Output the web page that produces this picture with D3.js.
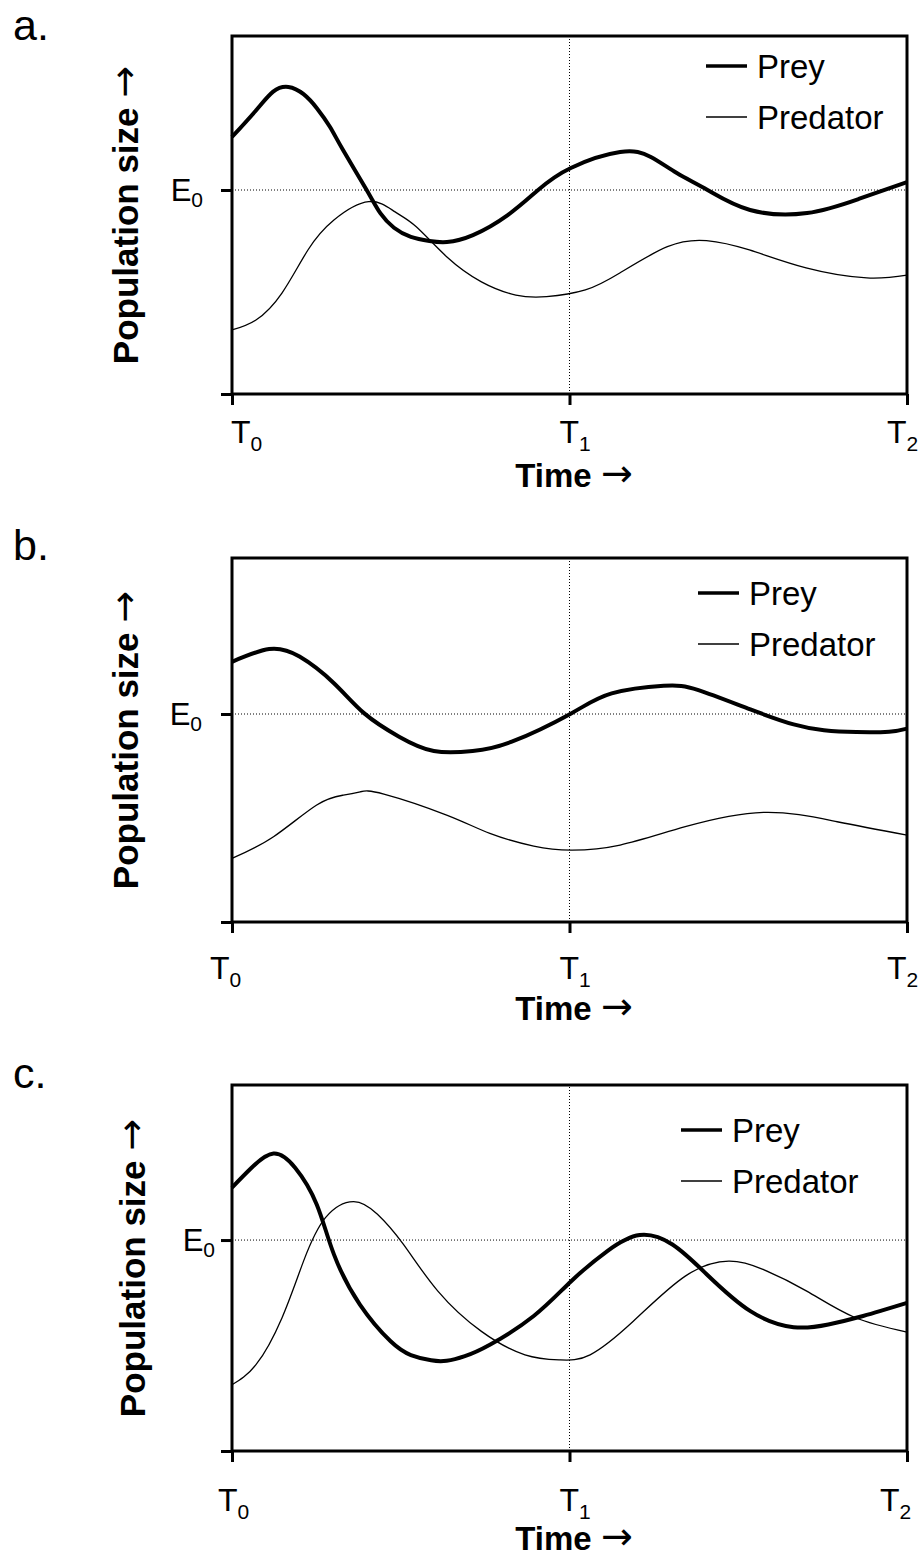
<!DOCTYPE html>
<head>
    <meta charset="utf-8">
    <title>Predator-prey oscillations</title>
    <style>
        body { margin: 0; background: #fff; }
        text { font-family: "Liberation Sans", Arial, sans-serif; fill: #000; }
        .arrow { font-family: "DejaVu Sans", sans-serif; font-weight: normal; font-size: 38px; }
    </style>
</head>
<body>
    <script src="https://d3js.org/d3.v7.min.js"></script>
    <script>

        // values: [time, population / E0]
        var panelLetters = ['a.', 'b.', 'c.'];
        var timeTicks = [0, 1, 2];
        var timeSubs = ['0', '1', '2'];
        var seriesNames = ['Prey', 'Predator'];

        var preyA = [[0, 1.26], [0.071, 1.39], [0.122, 1.482], [0.167, 1.505], [0.212, 1.47], [0.252, 1.4],
            [0.29, 1.31], [0.329, 1.196], [0.399, 1.0], [0.44, 0.885], [0.48, 0.815], [0.53, 0.77], [0.585, 0.75],
            [0.637, 0.745], [0.714, 0.779], [0.817, 0.877], [0.907, 1.0], [1.004, 1.108], [1.15, 1.186],
            [1.241, 1.162], [1.318, 1.083], [1.409, 1.0], [1.535, 0.902], [1.704, 0.887], [1.857, 0.956], [2, 1.039]];
        var predA = [[0, 0.314], [0.071, 0.363], [0.148, 0.495], [0.225, 0.706], [0.302, 0.853], [0.405, 0.943],
            [0.482, 0.894], [0.546, 0.82], [0.636, 0.673], [0.739, 0.55], [0.841, 0.485], [0.932, 0.477],
            [1.047, 0.51], [1.149, 0.593], [1.29, 0.722], [1.406, 0.752], [1.533, 0.706], [1.701, 0.618],
            [1.881, 0.569], [2, 0.583]];

        var preyB = [[0, 1.251], [0.11, 1.312], [0.2, 1.276], [0.302, 1.148], [0.392, 1.003], [0.495, 0.891],
            [0.598, 0.822], [0.713, 0.822], [0.829, 0.867], [1.005, 1.003], [1.125, 1.099], [1.279, 1.136],
            [1.382, 1.115], [1.536, 1.022], [1.664, 0.95], [1.754, 0.922], [1.85, 0.913], [1.947, 0.915], [2, 0.93]];
        var predB = [[0, 0.306], [0.123, 0.41], [0.251, 0.5625], [0.33, 0.61], [0.38, 0.626], [0.45, 0.615],
            [0.636, 0.514], [0.764, 0.426], [0.894, 0.365], [1.005, 0.346], [1.15, 0.37],
            [1.343, 0.458], [1.575, 0.527], [1.793, 0.482], [2, 0.418]];

        var preyC = [[0, 1.249], [0.058, 1.343], [0.123, 1.41], [0.187, 1.343], [0.251, 1.169], [0.302, 0.932],
            [0.379, 0.694], [0.47, 0.52], [0.53, 0.455], [0.59, 0.43], [0.636, 0.428], [0.69, 0.45], [0.764, 0.504],
            [0.894, 0.64], [1.005, 0.805], [1.112, 0.948], [1.208, 1.024], [1.305, 0.979], [1.407, 0.837],
            [1.536, 0.663], [1.664, 0.587], [1.767, 0.6], [1.87, 0.64], [2, 0.702]];
        var predC = [[0, 0.314], [0.071, 0.409], [0.148, 0.631], [0.212, 0.9], [0.277, 1.106], [0.36, 1.182],
            [0.431, 1.122], [0.508, 0.979], [0.61, 0.758], [0.739, 0.567], [0.868, 0.456], [0.971, 0.432],
            [1.061, 0.456], [1.189, 0.615], [1.343, 0.829], [1.472, 0.9], [1.575, 0.86], [1.703, 0.758],
            [1.844, 0.634], [2, 0.564]];

        var preySeries = [preyA, preyB, preyC];
        var predSeries = [predA, predB, predC];

        // page layout for each panel
        var left = 232, right = 907;
        var layout = [
            { top: 36, bottom: 394, yMax: 1.755, tickY: 443, titleY: 487, letterY: 40, legendX: 706, legendTop: 30, tDx: [9, 0, -10], eX: 203, yLabelX: 138 },
            { top: 558, bottom: 922, yMax: 1.75, tickY: 979, titleY: 1020, letterY: 560, legendX: 698, legendTop: 35, tDx: [-12, 0, -10], eX: 202, yLabelX: 138 },
            { top: 1085, bottom: 1451, yMax: 1.735, tickY: 1511, titleY: 1550, letterY: 1088, legendX: 681, legendTop: 45, tDx: [-4, 0, -17], eX: 215, yLabelX: 145 }
        ];

        var svg = d3.select('body').append('svg')
            .attr('width', 923)
            .attr('height', 1559);

        svg.append('rect')
            .attr('width', 923).attr('height', 1559)
            .attr('fill', '#fff');

        var x = d3.scaleLinear()
            .domain([0, 2])
            .range([left, right]);

        layout.forEach(function (p, i) {

            var y = d3.scaleLinear()
                .domain([0, p.yMax])
                .range([p.bottom, p.top]);

            var line = d3.line()
                .x(function (d) { return x(d[0]); })
                .y(function (d) { return y(d[1]); })
                .curve(d3.curveNatural);

            var g = svg.append('g').attr('class', 'panel');

            // panel letter
            g.append('text')
                .attr('x', 13)
                .attr('y', p.letterY)
                .style('font-size', '43px')
                .text(panelLetters[i]);

            // dotted reference lines at E0 and T1
            g.append('line')
                .attr('x1', x(0)).attr('x2', x(2))
                .attr('y1', y(1)).attr('y2', y(1))
                .attr('stroke', '#000')
                .attr('stroke-width', 1)
                .attr('stroke-dasharray', '1,2');

            g.append('line')
                .attr('x1', x(1)).attr('x2', x(1))
                .attr('y1', y(0)).attr('y2', y(p.yMax))
                .attr('stroke', '#000')
                .attr('stroke-width', 1)
                .attr('stroke-dasharray', '1,2');

            // series
            g.append('path')
                .datum(predSeries[i])
                .attr('d', line)
                .attr('fill', 'none')
                .attr('stroke', '#000')
                .attr('stroke-width', 1.3);

            g.append('path')
                .datum(preySeries[i])
                .attr('d', line)
                .attr('fill', 'none')
                .attr('stroke', '#000')
                .attr('stroke-width', 4);

            // frame
            g.append('rect')
                .attr('x', left)
                .attr('y', p.top)
                .attr('width', right - left)
                .attr('height', p.bottom - p.top)
                .attr('fill', 'none')
                .attr('stroke', '#000')
                .attr('stroke-width', 3);

            // axes (ticks only, labels drawn below with subscripts)
            var xAxis = d3.axisBottom(x)
                .tickValues(timeTicks)
                .tickSize(11)
                .tickSizeOuter(0)
                .tickFormat('');

            var yAxis = d3.axisLeft(y)
                .tickValues([0, 1])
                .tickSize(11)
                .tickSizeOuter(0)
                .tickFormat('');

            var xg = g.append('g')
                .attr('transform', 'translate(0,' + p.bottom + ')')
                .call(xAxis);
            var yg = g.append('g')
                .attr('transform', 'translate(' + left + ',0)')
                .call(yAxis);

            [xg, yg].forEach(function (a) {
                a.select('.domain').remove();
                a.selectAll('.tick line').attr('stroke', '#000').attr('stroke-width', 3);
            });

            // time tick labels T0, T1, T2
            timeTicks.forEach(function (t, k) {
                var lab = g.append('text')
                    .attr('x', x(t) + p.tDx[k] - 10)
                    .attr('y', p.tickY)
                    .style('font-size', '32px');
                lab.append('tspan').text('T');
                lab.append('tspan')
                    .attr('dy', 8)
                    .style('font-size', '21px')
                    .text(timeSubs[k]);
            });

            // E0 label
            var e = g.append('text')
                .attr('x', p.eX)
                .attr('y', y(1) + 11)
                .attr('text-anchor', 'end')
                .style('font-size', '31px');
            e.append('tspan').text('E');
            e.append('tspan')
                .attr('dy', 6)
                .style('font-size', '21px')
                .text('0');

            // axis titles
            var tt = g.append('text')
                .attr('x', 574)
                .attr('y', p.titleY)
                .attr('text-anchor', 'middle')
                .style('font-size', '33px')
                .style('font-weight', 'bold');
            tt.append('tspan').text('Time ');
            tt.append('tspan').attr('class', 'arrow').attr('dy', -1).text('\u2192');

            var yt = g.append('text')
                .attr('transform', 'translate(' + p.yLabelX + ',' + ((p.top + p.bottom) / 2) + ') rotate(-90)')
                .attr('text-anchor', 'middle')
                .style('font-size', '35px')
                .style('font-weight', 'bold');
            yt.append('tspan').text('Population size ');
            yt.append('tspan').attr('class', 'arrow').attr('dy', -1).text('\u2192');

            // legend
            seriesNames.forEach(function (name, k) {
                var ly = p.top + p.legendTop + k * 51;
                g.append('line')
                    .attr('x1', p.legendX).attr('x2', p.legendX + 41)
                    .attr('y1', ly).attr('y2', ly)
                    .attr('stroke', '#000')
                    .attr('stroke-width', k === 0 ? 3.5 : 1.3);
                g.append('text')
                    .attr('x', p.legendX + 51)
                    .attr('y', ly + 12)
                    .style('font-size', '33px')
                    .text(name);
            });
        });

    </script>
</body>
